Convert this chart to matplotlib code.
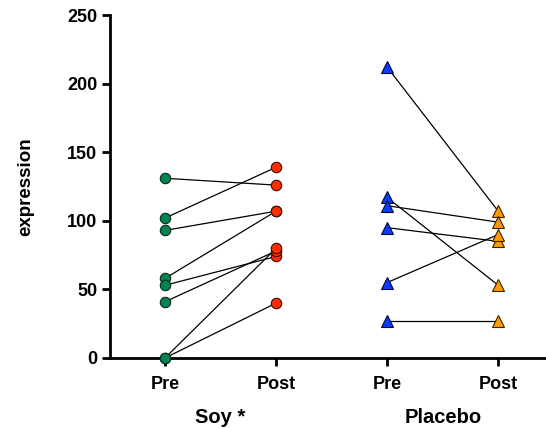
import matplotlib.pyplot as plt

plt.rcParams['font.family'] = ['Liberation Sans', 'DejaVu Sans']

# Before/after values for each subject
soy_pre = [131, 102, 93, 58, 53, 41, 0, 0]
soy_post = [126, 139, 107, 107, 74, 78, 80, 40]
placebo_pre = [212, 117, 111, 95, 55, 27]
placebo_post = [107, 53, 99, 85, 90, 27]

tick_labels = ['Pre', 'Post', 'Pre', 'Post']
group_labels = ['Soy *', 'Placebo']

fig = plt.figure(figsize=(5.46, 4.28), dpi=100)
ax = fig.add_axes([110 / 546, 1 - 358 / 428, 436 / 546, 343 / 428])

# Soy pairs
for a, b in zip(soy_pre, soy_post):
    ax.plot([0, 1], [a, b], '-', color='black', lw=0.9, zorder=1)
ax.plot([0] * len(soy_pre), soy_pre, 'o', ms=7.5, mfc='#00844f', mec='#0a2a1a', mew=0.8, zorder=3, clip_on=False)
ax.plot([1] * len(soy_post), soy_post, 'o', ms=7.5, mfc='#ff2d00', mec='#3a0a00', mew=0.8, zorder=3, clip_on=False)

# Placebo pairs
for a, b in zip(placebo_pre, placebo_post):
    ax.plot([2, 3], [a, b], '-', color='black', lw=0.9, zorder=1)
ax.plot([2] * len(placebo_pre), placebo_pre, '^', ms=8, mfc='#0a3cff', mec='#000a33', mew=0.8, zorder=3, clip_on=False)
ax.plot([3] * len(placebo_post), placebo_post, '^', ms=8, mfc='#ff9900', mec='#3a2000', mew=0.8, zorder=3, clip_on=False)

ax.set_xlim(-0.495, 3.43)
ax.set_ylim(0, 250)
ax.set_yticks([0, 50, 100, 150, 200, 250])
ax.set_xticks([0, 1, 2, 3])
ax.set_xticklabels(tick_labels)

for s in ['top', 'right']:
    ax.spines[s].set_visible(False)
for s in ['left', 'bottom']:
    ax.spines[s].set_linewidth(2)
ax.tick_params(width=2, length=6, labelsize=13, pad=3)
ax.tick_params(axis='x', pad=7)
for lab in ax.get_xticklabels() + ax.get_yticklabels():
    lab.set_fontweight('bold')

ax.set_ylabel('expression', fontsize=13.5, fontweight='bold', labelpad=24)

ax.text(0.5, -0.173, group_labels[0], transform=ax.get_xaxis_transform(),
        ha='center', va='center', fontsize=14.5, fontweight='bold')
ax.text(2.5, -0.173, group_labels[1], transform=ax.get_xaxis_transform(),
        ha='center', va='center', fontsize=14.5, fontweight='bold')

plt.savefig('out.png', dpi=100)
